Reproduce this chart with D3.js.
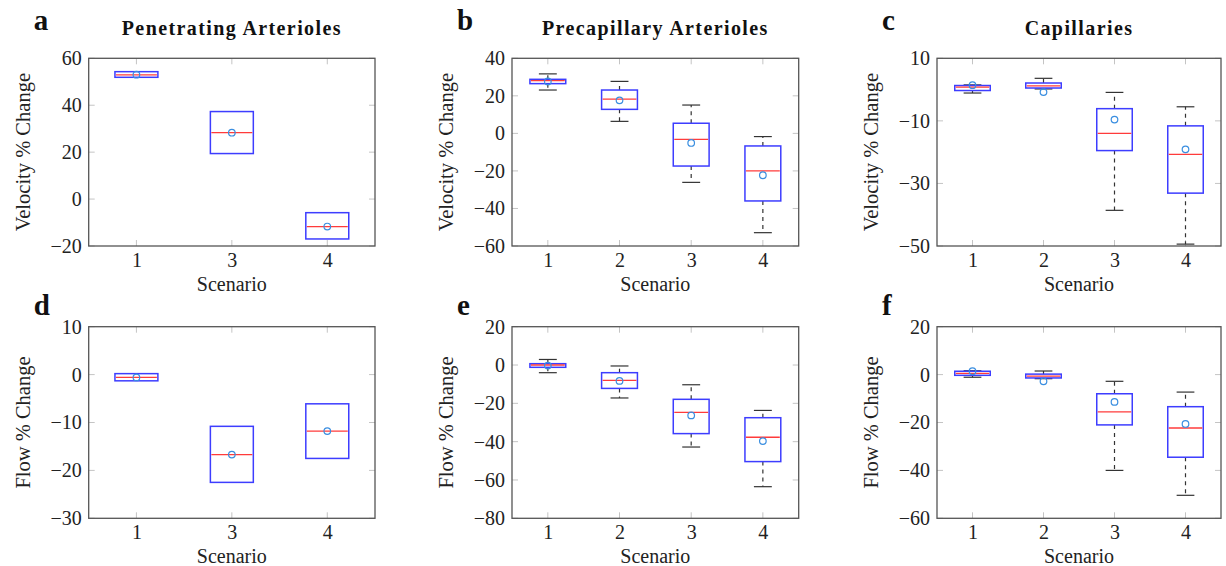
<!DOCTYPE html>
<html>
<head>
<meta charset="utf-8">
<script src="https://cdn.jsdelivr.net/npm/d3@7"></script>
<style>
  body { margin: 0; background: #fff; }
  svg { display: block; font-family: "Liberation Serif", "Times New Roman", serif; }
</style>
</head>
<body>
<svg id="chart" width="1226" height="566"></svg>
<script>
// panel a: velocity, penetrating arterioles
const scenA = [1, 3, 4];
const q3A = [54.3, 37.3, -5.8];
const medA = [52.9, 28.3, -11.7];
const q1A = [51.9, 19.4, -17.0];
const meanA = [53.0, 28.3, -11.7];

// panel b: velocity, precapillary arterioles
const scenB = [1, 2, 3, 4];
const hiB = [31.7, 27.7, 15.1, -1.7];
const q3B = [28.8, 23.1, 5.4, -6.7];
const medB = [28.1, 18.2, -3.2, -20.0];
const q1B = [26.5, 12.8, -17.4, -36.0];
const loB = [23.1, 6.4, -26.1, -52.9];
const meanB = [27.7, 17.6, -5.1, -22.3];

// panel c: velocity, capillaries
const scenC = [1, 2, 3, 4];
const hiC = [1.5, 3.6, -0.9, -5.5];
const q3C = [1.3, 2.1, -6.1, -11.6];
const medC = [0.8, 1.2, -14.0, -20.7];
const q1C = [-0.3, 0.5, -19.5, -33.1];
const loC = [-1.1, 0.2, -38.6, -49.4];
const meanC = [1.4, -0.8, -9.6, -19.1];

// panel d: flow, penetrating arterioles
const scenD = [1, 3, 4];
const q3D = [0.2, -10.8, -6.1];
const medD = [-0.6, -16.7, -11.8];
const q1D = [-1.3, -22.5, -17.5];
const meanD = [-0.6, -16.7, -11.8];

// panel e: flow, precapillary arterioles
const scenE = [1, 2, 3, 4];
const hiE = [2.9, -0.5, -10.3, -23.7];
const q3E = [0.7, -4.0, -17.9, -27.5];
const medE = [0.0, -8.0, -24.7, -37.7];
const q1E = [-1.2, -12.2, -35.8, -50.4];
const loE = [-4.0, -17.2, -42.8, -63.5];
const meanE = [-0.3, -8.3, -26.3, -39.7];

// panel f: flow, capillaries
const scenF = [1, 2, 3, 4];
const hiF = [1.6, 1.5, -2.8, -7.3];
const q3F = [1.4, 0.2, -8.0, -13.4];
const medF = [0.5, -0.6, -15.6, -22.3];
const q1F = [-0.3, -1.4, -21.0, -34.5];
const loF = [-1.1, -1.7, -40.0, -50.4];
const meanF = [1.4, -2.8, -11.4, -20.6];

const ticksA = [-20, 0, 20, 40, 60];
const ticksB = [-60, -40, -20, 0, 20, 40];
const ticksC = [-50, -30, -10, 10];
const ticksD = [-30, -20, -10, 0, 10];
const ticksE = [-80, -60, -40, -20, 0, 20];
const ticksF = [-60, -40, -20, 0, 20];

function rows(scen, q1, med, q3, mean, lo, hi) {
    return scen.map((s, i) => ({
        s: s, q1: q1[i], med: med[i], q3: q3[i], mean: mean[i],
        lo: lo ? lo[i] : null, hi: hi ? hi[i] : null
    }));
}

const panels = [
    {letter: "a", title: "Penetrating Arterioles", ylab: "Velocity % Change", ticks: ticksA,
     data: rows(scenA, q1A, medA, q3A, meanA), left: 88.7, right: 375, top: 58.3, bottom: 246, boxFrac: 0.45},
    {letter: "b", title: "Precapillary Arterioles", ylab: "Velocity % Change", ticks: ticksB,
     data: rows(scenB, q1B, medB, q3B, meanB, loB, hiB), left: 512, right: 798.7, top: 58.3, bottom: 246, boxFrac: 0.5},
    {letter: "c", title: "Capillaries", ylab: "Velocity % Change", ticks: ticksC,
     data: rows(scenC, q1C, medC, q3C, meanC, loC, hiC), left: 937, right: 1221, top: 58.3, bottom: 246, boxFrac: 0.5},
    {letter: "d", title: null, ylab: "Flow % Change", ticks: ticksD,
     data: rows(scenD, q1D, medD, q3D, meanD), left: 88.7, right: 375, top: 326.7, bottom: 518.3, boxFrac: 0.45},
    {letter: "e", title: null, ylab: "Flow % Change", ticks: ticksE,
     data: rows(scenE, q1E, medE, q3E, meanE, loE, hiE), left: 512, right: 798.7, top: 326.7, bottom: 518.3, boxFrac: 0.5},
    {letter: "f", title: null, ylab: "Flow % Change", ticks: ticksF,
     data: rows(scenF, q1F, medF, q3F, meanF, loF, hiF), left: 937, right: 1221, top: 326.7, bottom: 518.3, boxFrac: 0.5}
];

const svg = d3.select("#chart");
const tickColor = "#c4c4c4";
const frameColor = "#555";

panels.forEach(p => {
    const w = p.right - p.left, h = p.bottom - p.top;
    const g = svg.append("g").attr("transform", `translate(${p.left},${p.top})`);

    const x = d3.scalePoint().domain(p.data.map(d => d.s)).range([0, w]).padding(0.5);
    const y = d3.scaleLinear().domain(d3.extent(p.ticks)).range([h, 0]);
    const bw = x.step() * p.boxFrac;
    const cw = bw / 2;

    // inner tick marks on all four sides
    const tl = 6;
    const inner = g.append("g").attr("stroke", tickColor).attr("stroke-width", 1);
    p.ticks.forEach(t => {
        inner.append("line").attr("x1", 0).attr("x2", tl).attr("y1", y(t)).attr("y2", y(t));
        inner.append("line").attr("x1", w - tl).attr("x2", w).attr("y1", y(t)).attr("y2", y(t));
    });
    p.data.forEach(d => {
        inner.append("line").attr("x1", x(d.s)).attr("x2", x(d.s)).attr("y1", h).attr("y2", h - tl);
        inner.append("line").attr("x1", x(d.s)).attr("x2", x(d.s)).attr("y1", 0).attr("y2", tl);
    });

    // axes labels via d3 axes (lines hidden)
    const yAxis = g.append("g")
        .call(d3.axisLeft(y).tickValues(p.ticks).tickSize(0).tickPadding(7).tickFormat(d3.format("")));
    yAxis.select(".domain").remove();
    yAxis.selectAll("text").attr("font-size", 20).attr("font-family", "Liberation Serif").attr("fill", "#222");

    const xAxis = g.append("g").attr("transform", `translate(0,${h})`)
        .call(d3.axisBottom(x).tickSize(0).tickPadding(7));
    xAxis.select(".domain").remove();
    xAxis.selectAll("text").attr("font-size", 20).attr("font-family", "Liberation Serif").attr("fill", "#222");

    // whiskers
    const wg = g.append("g").attr("stroke", "#333").attr("stroke-width", 1.2).attr("fill", "none");
    p.data.filter(d => d.hi != null).forEach(d => {
        const cx = x(d.s);
        wg.append("line").attr("x1", cx).attr("x2", cx).attr("y1", y(d.q3)).attr("y2", y(d.hi)).attr("stroke-dasharray", "4,4");
        wg.append("line").attr("x1", cx).attr("x2", cx).attr("y1", y(d.q1)).attr("y2", y(d.lo)).attr("stroke-dasharray", "4,4");
        wg.append("line").attr("x1", cx - cw / 2).attr("x2", cx + cw / 2).attr("y1", y(d.hi)).attr("y2", y(d.hi));
        wg.append("line").attr("x1", cx - cw / 2).attr("x2", cx + cw / 2).attr("y1", y(d.lo)).attr("y2", y(d.lo));
    });

    // boxes
    g.selectAll(".box").data(p.data).enter().append("rect")
        .attr("x", d => x(d.s) - bw / 2)
        .attr("y", d => y(d.q3))
        .attr("width", bw)
        .attr("height", d => y(d.q1) - y(d.q3))
        .attr("fill", "none")
        .attr("stroke", "#3d3dff")
        .attr("stroke-width", 1.5);

    g.selectAll(".med").data(p.data).enter().append("line")
        .attr("x1", d => x(d.s) - bw / 2 + 1)
        .attr("x2", d => x(d.s) + bw / 2 - 1)
        .attr("y1", d => y(d.med))
        .attr("y2", d => y(d.med))
        .attr("stroke", "#ff3b3b")
        .attr("stroke-width", 1.3);

    g.selectAll(".mean").data(p.data).enter().append("circle")
        .attr("cx", d => x(d.s))
        .attr("cy", d => y(d.mean))
        .attr("r", 3.3)
        .attr("fill", "none")
        .attr("stroke", "#3a8ee0")
        .attr("stroke-width", 1.2);

    // frame
    g.append("rect").attr("width", w).attr("height", h)
        .attr("fill", "none").attr("stroke", frameColor).attr("stroke-width", 1.3);

    // labels
    g.append("text")
        .attr("x", w / 2).attr("y", h + 45)
        .attr("text-anchor", "middle").attr("font-size", 20).attr("fill", "#222")
        .text("Scenario");

    g.append("text")
        .attr("transform", `translate(-59,${h / 2}) rotate(-90)`)
        .attr("text-anchor", "middle").attr("font-size", 20.5).attr("fill", "#222")
        .text(p.ylab);

    g.append("text")
        .attr("x", -55).attr("y", p.title ? -28 : -12)
        .attr("font-size", 29).attr("font-weight", "bold").attr("fill", "#111")
        .text(p.letter);

    if (p.title) {
        g.append("text")
            .attr("x", w / 2).attr("y", -23)
            .attr("text-anchor", "middle").attr("font-size", 20).attr("font-weight", "bold")
            .attr("letter-spacing", 1.4).attr("fill", "#111")
            .text(p.title);
    }
});
</script>
</body>
</html>
